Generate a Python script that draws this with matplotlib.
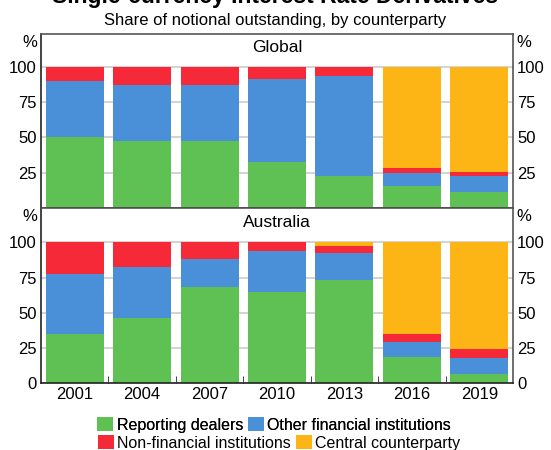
import matplotlib
matplotlib.use("Agg")
import matplotlib.pyplot as plt
from matplotlib.patches import Patch
import numpy as np

plt.rcParams['font.family'] = ['Liberation Sans', 'DejaVu Sans']

years = ['2001', '2004', '2007', '2010', '2013', '2016', '2019']
series_names = ['Reporting dealers', 'Other financial institutions',
                'Non-financial institutions', 'Central counterparty']
colors = ['#5fc154', '#4a90d9', '#f52938', '#fdb515']

# shares, per cent of notional outstanding
global_dealers = [50.5, 47.1, 47.1, 32.8, 22.4, 15.4, 11.1]
global_other_fin = [39.4, 39.5, 39.9, 58.3, 70.8, 9.6, 11.3]
global_non_fin = [10.1, 13.4, 13.0, 8.9, 6.8, 3.0, 2.9]
global_ccp = [0.0, 0.0, 0.0, 0.0, 0.0, 72.0, 74.7]

aus_dealers = [34.9, 46.3, 68.4, 64.6, 73.6, 18.8, 6.7]
aus_other_fin = [43.0, 36.4, 19.8, 29.0, 18.8, 10.7, 11.4]
aus_non_fin = [22.1, 17.3, 11.8, 6.4, 5.2, 5.2, 6.2]
aus_ccp = [0.0, 0.0, 0.0, 0.0, 2.4, 65.3, 75.7]

panels = [
    ('Global', [global_dealers, global_other_fin, global_non_fin, global_ccp]),
    ('Australia', [aus_dealers, aus_other_fin, aus_non_fin, aus_ccp]),
]

fig = plt.figure(figsize=(5.51, 4.5), dpi=100)
ax_top = fig.add_axes([41 / 551, 1 - 208 / 450, 472 / 551, 174 / 450])
ax_bot = fig.add_axes([41 / 551, 1 - 383 / 450, 472 / 551, 175 / 450])

x = np.arange(len(years))
for ax, (name, data), ylim_top in zip([ax_top, ax_bot], panels, [123, 124.5]):
    bottom = np.zeros(len(years))
    for vals, col in zip(data, colors):
        vals = np.array(vals)
        ax.bar(x, vals, width=0.86, bottom=bottom, color=col, zorder=2, linewidth=0)
        bottom += vals
    ax.set_xlim(-0.5, len(years) - 0.5)
    ax.set_ylim(0, ylim_top)
    ax.set_yticks([25, 50, 75, 100])
    ax.yaxis.grid(True, color='#c8c8c8', linewidth=1.1, zorder=0)
    ax.set_axisbelow(True)
    ax.tick_params(axis='y', length=0, labelleft=True, labelright=True,
                   labelsize=12, pad=3)
    for sp in ax.spines.values():
        sp.set_color('#555555')
        sp.set_linewidth(1.2)
    ax.spines['left'].set_color('#222222')
    ax.spines['bottom'].set_color('#222222')
    ax.text(0.5, 0.925 if name == 'Global' else 0.915, name, transform=ax.transAxes,
            ha='center', va='center', fontsize=12.5)
    ax.text(-0.024, 0.95, '%', transform=ax.transAxes, ha='center', va='center', fontsize=12)
    ax.text(1.022, 0.95, '%', transform=ax.transAxes, ha='center', va='center', fontsize=12)

ax_top.set_xticks([])
ax_bot.set_yticks([0, 25, 50, 75, 100])
ax_bot.set_xticks(x)
ax_bot.set_xticklabels(years)
ax_bot.tick_params(axis='x', which='major', length=0, labelsize=12, pad=3)
ax_bot.set_xticks(x[:-1] + 0.5, minor=True)
ax_bot.tick_params(axis='x', which='minor', direction='in', length=5, color='#222222')

fig.text(0.5, 1 - 3 / 450, 'Single-currency Interest Rate Derivatives', ha='center',
         va='baseline', fontsize=16.5, fontweight='bold')
fig.text(0.5, 1 - 20 / 450, 'Share of notional outstanding, by counterparty',
         ha='center', va='center', fontsize=12)

handles = [Patch(facecolor=c, edgecolor='none') for c in colors]
leg_kw = dict(frameon=False, ncol=2, fontsize=11.5, handlelength=1.0, handleheight=1.0,
              handletextpad=0.2, columnspacing=0.3, borderpad=0, borderaxespad=0)
leg1 = fig.legend(handles[:2], series_names[:2], loc='center',
                  bbox_to_anchor=(274 / 551, 1 - 425 / 450), **leg_kw)
fig.add_artist(leg1)
fig.legend(handles[2:], series_names[2:], loc='center',
           bbox_to_anchor=(279 / 551, 1 - 443 / 450), **leg_kw)

fig.savefig('out.png', dpi=100)
